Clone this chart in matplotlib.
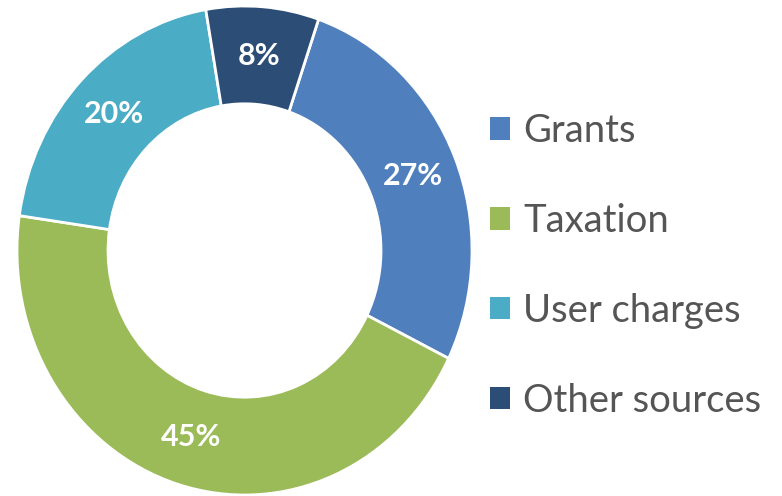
import matplotlib.pyplot as plt
from matplotlib.patches import Patch

labels = ['Grants', 'Taxation', 'User charges', 'Other sources']
shares = [27, 45, 20, 8]
colors = ['#4F7FBD', '#9BBB59', '#4BACC6', '#2C4D75']

plt.rcParams['font.family'] = ['Lato', 'DejaVu Sans']

fig = plt.figure(figsize=(7.82, 4.96), dpi=100)
# donut is drawn slightly taller than wide in the original
ax = fig.add_axes([17 / 782, 1 / 496, 455 / 782, 489 / 496])

wedges, texts, autotexts = ax.pie(
    shares, colors=colors, startangle=71, counterclock=False,
    autopct='%d%%', pctdistance=0.8,
    wedgeprops=dict(width=0.4, edgecolor='white', linewidth=2),
    textprops=dict(color='white', fontsize=22, fontweight='bold'))
ax.set_aspect('auto')
ax.set_xlim(-1, 1)
ax.set_ylim(-1, 1)

handles = [Patch(facecolor=c) for c in colors]
fig.legend(handles, labels, loc='center left', bbox_to_anchor=(490 / 782, 0.464),
           frameon=False, fontsize=27.5, labelcolor='#555555',
           borderpad=0, borderaxespad=0,
           handlelength=0.52, handleheight=0.52, handletextpad=0.35,
           labelspacing=1.41)

fig.savefig('out.png', dpi=100)
